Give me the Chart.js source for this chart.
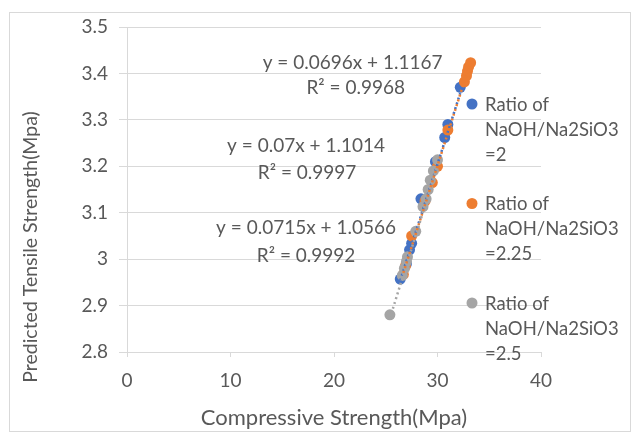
<!DOCTYPE html>
<html>
<head>
<meta charset="utf-8">
<script src="https://cdn.jsdelivr.net/npm/chart.js@4/dist/chart.umd.min.js"></script>
<style>
  html, body { margin: 0; padding: 0; background: #fff; }
</style>
</head>
<body>
<canvas id="chart" width="636" height="435"></canvas>
<script>
// Series names and legend lines (the legend wraps over three lines)
const seriesNames = ["Ratio of NaOH/Na2SiO3 =2", "Ratio of NaOH/Na2SiO3 =2.25", "Ratio of NaOH/Na2SiO3 =2.5"];
const legendLines = [
  ["Ratio of", "NaOH/Na2SiO3", "=2"],
  ["Ratio of", "NaOH/Na2SiO3", "=2.25"],
  ["Ratio of", "NaOH/Na2SiO3", "=2.5"]
];

// Compressive strength (x) and predicted tensile strength (y)
const ratio2X = [26.4, 27.0, 27.3, 27.5, 28.4, 29.8, 30.7, 31.0, 32.2];
const ratio2Y = [2.957, 2.99, 3.02, 3.034, 3.13, 3.21, 3.262, 3.29, 3.37];

const ratio225X = [26.7, 26.9, 27.5, 28.8, 29.5, 30.0, 31.0, 32.6, 32.8, 32.9, 33.0, 33.2];
const ratio225Y = [2.967, 2.985, 3.05, 3.125, 3.165, 3.2, 3.278, 3.382, 3.395, 3.405, 3.414, 3.423];

const ratio25X = [25.4, 26.6, 26.8, 27.0, 27.1, 27.9, 28.6, 28.9, 29.1, 29.3, 29.6, 30.0];
const ratio25Y = [2.88, 2.965, 2.98, 2.995, 3.005, 3.06, 3.113, 3.13, 3.15, 3.17, 3.19, 3.214];

// Linear trendlines as printed on the chart
const slopes = [0.0696, 0.07, 0.0715];
const intercepts = [1.1167, 1.1014, 1.0566];
const equationLabels = ["y = 0.0696x + 1.1167", "y = 0.07x + 1.1014", "y = 0.0715x + 1.0566"];
const r2Labels = ["R² = 0.9968", "R² = 0.9997", "R² = 0.9992"];

const xTicks = [0, 10, 20, 30, 40];
const yTicks = [2.8, 2.9, 3, 3.1, 3.2, 3.3, 3.4, 3.5];

const colors = ["#4472C4", "#ED7D31", "#A5A5A5"];
const textColor = "#595959";
const gridColor = "#d9d9d9";
const fontFamily = "Lato, 'Liberation Sans', sans-serif";

const allX = [ratio2X, ratio225X, ratio25X];
const allY = [ratio2Y, ratio225Y, ratio25Y];

const toPoints = (xs, ys) => xs.map((x, i) => ({ x: x, y: ys[i] }));

// trendline runs from the smallest to the largest x of its series
const trendPoints = i => {
  const lo = Math.min(...allX[i]);
  const hi = Math.max(...allX[i]);
  return [lo, hi].map(x => ({ x: x, y: slopes[i] * x + intercepts[i] }));
};

// scatter sets: later series painted on top, like Excel
const scatterSets = seriesNames.map((name, i) => ({
  label: name,
  data: toPoints(allX[i], allY[i]),
  backgroundColor: colors[i],
  borderColor: colors[i],
  pointRadius: 5.5,
  pointHoverRadius: 5.5,
  borderWidth: 0,
  showLine: false,
  order: 5 - i
}));

const trendOrder = [2, 0, 1];
const trendSets = seriesNames.map((name, i) => ({
  label: "Linear (" + name + ")",
  data: trendPoints(i),
  borderColor: colors[i],
  borderWidth: 2.5,
  borderDash: [2, 3],
  pointRadius: 0,
  showLine: true,
  fill: false,
  order: trendOrder[i]
}));

// positions of the equation labels, in axis units
const labelSpots = [
  { eq: [21.8, 3.423], r2: [22.1, 3.368] },
  { eq: [17.3, 3.243], r2: [17.4, 3.185] },
  { eq: [17.3, 3.067], r2: [17.3, 3.008] }
];

const decorPlugin = {
  id: "decor",
  beforeDraw(chart) {
    const c = chart.ctx;
    c.save();
    c.fillStyle = "#fff";
    c.fillRect(0, 0, chart.width, chart.height);
    c.strokeStyle = gridColor;
    c.lineWidth = 1;
    c.strokeRect(9.5, 12.5, 621, 419);
    c.restore();
  },
  afterDraw(chart) {
    const c = chart.ctx;
    const xs = chart.scales.x, ys = chart.scales.y;
    c.save();
    c.fillStyle = textColor;
    c.font = "19px " + fontFamily;
    c.textAlign = "center";
    c.textBaseline = "middle";

    // trendline equations
    labelSpots.forEach((s, i) => {
      c.fillText(equationLabels[i], xs.getPixelForValue(s.eq[0]), ys.getPixelForValue(s.eq[1]));
      c.fillText(r2Labels[i], xs.getPixelForValue(s.r2[0]), ys.getPixelForValue(s.r2[1]));
    });

    // y axis title
    c.save();
    c.font = "19.5px " + fontFamily;
    c.translate(31, 247);
    c.rotate(-Math.PI / 2);
    c.fillText("Predicted Tensile Strength(Mpa)", 0, 0);
    c.restore();

    // legend on the right, overlapping the plot like the original
    c.font = "18.5px " + fontFamily;
    c.textAlign = "left";
    legendLines.forEach((lines, i) => {
      const top = 105 + i * 99.5;
      c.fillStyle = colors[i];
      c.beginPath();
      c.arc(472, top - 1, 5.5, 0, Math.PI * 2);
      c.fill();
      c.fillStyle = textColor;
      lines.forEach((t, j) => c.fillText(t, 485, top + j * 25));
    });
    c.restore();
  }
};

new Chart(document.getElementById("chart"), {
  type: "scatter",
  data: { datasets: scatterSets.concat(trendSets) },
  options: {
    responsive: false,
    animation: false,
    layout: { padding: { top: 27, right: 95, bottom: 0, left: 0 } },
    plugins: {
      legend: { display: false },
      tooltip: { enabled: false }
    },
    scales: {
      x: {
        type: "linear",
        min: xTicks[0],
        max: xTicks[xTicks.length - 1],
        afterBuildTicks: s => { s.ticks = xTicks.map(v => ({ value: v })); },
        afterFit: s => { s.height = 83; },
        grid: { drawOnChartArea: false, tickLength: 5, color: gridColor },
        border: { color: gridColor },
        ticks: { color: textColor, font: { size: 19, family: fontFamily }, padding: 12 },
        title: {
          display: true,
          text: "Compressive Strength(Mpa)",
          color: textColor,
          font: { size: 22, family: fontFamily },
          padding: { top: 0, bottom: 4 }
        }
      },
      y: {
        type: "linear",
        min: yTicks[0],
        max: yTicks[yTicks.length - 1],
        afterBuildTicks: s => { s.ticks = yTicks.map(v => ({ value: v })); },
        afterFit: s => { s.width = 127; },
        grid: { color: gridColor, tickLength: 8 },
        border: { color: gridColor },
        ticks: {
          color: textColor,
          font: { size: 19, family: fontFamily },
          padding: 11,
          callback: v => String(v)
        }
      }
    }
  },
  plugins: [decorPlugin]
});
</script>
</body>
</html>
